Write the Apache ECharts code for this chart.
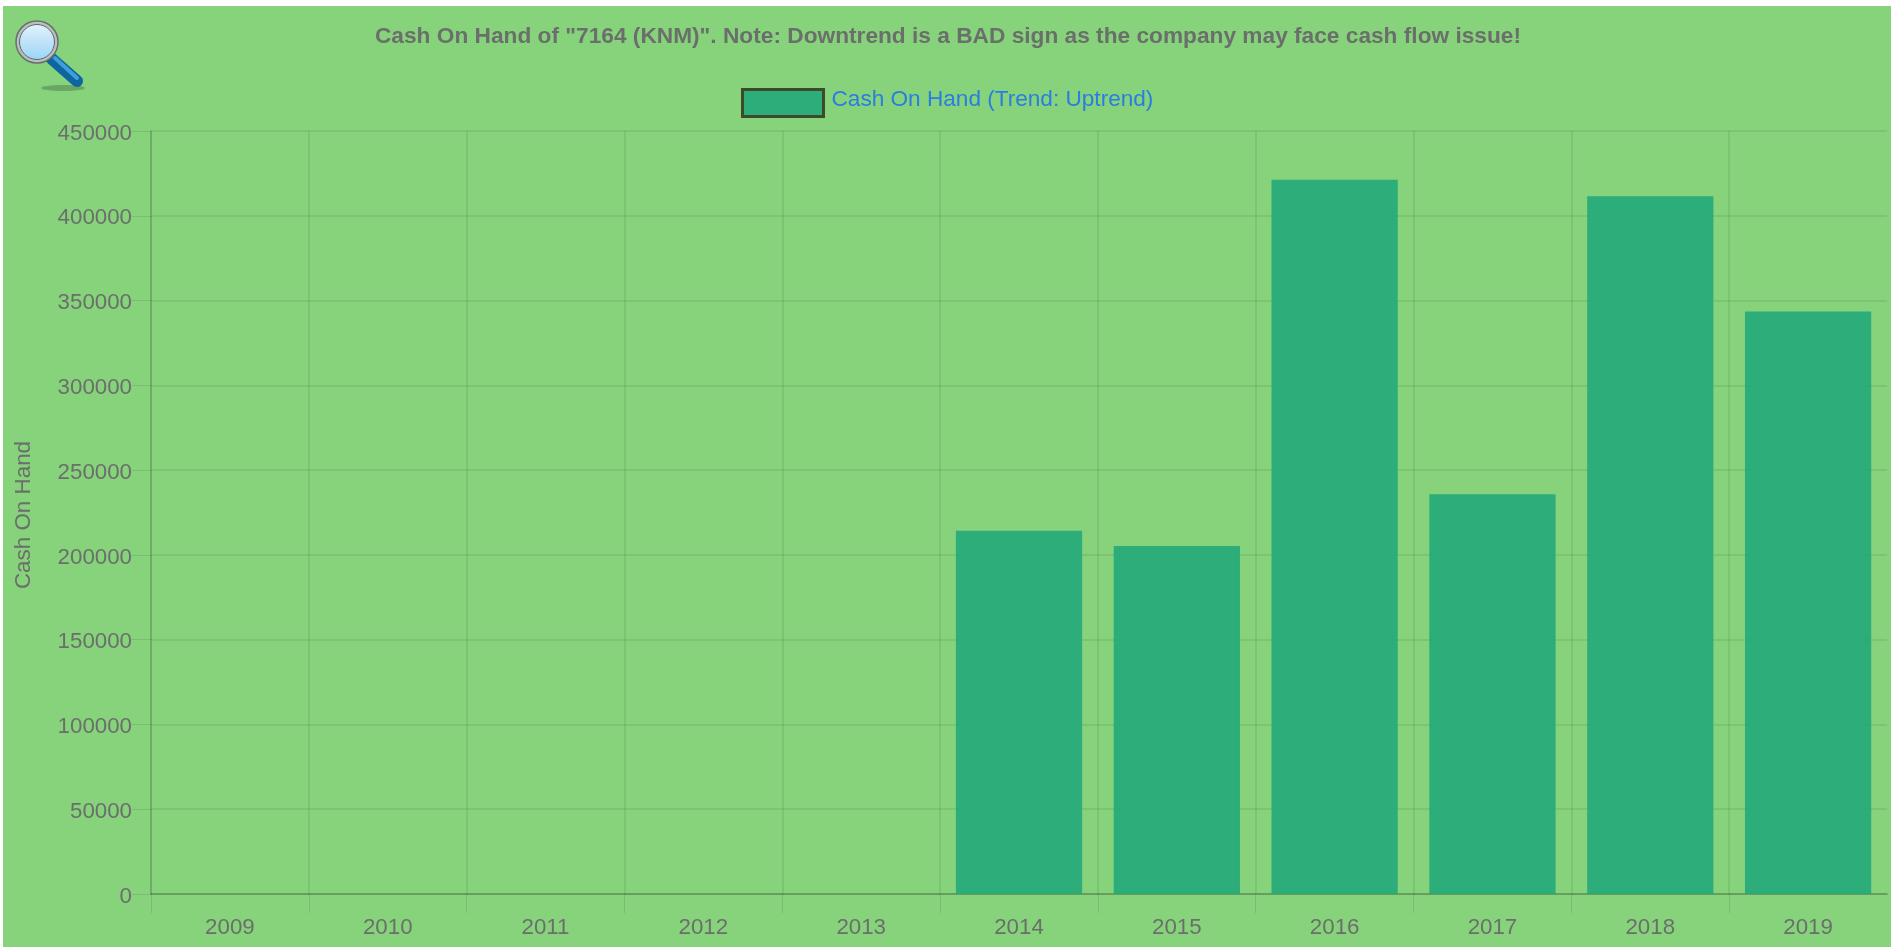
<!DOCTYPE html>
<html>
<head>
<meta charset="utf-8">
<style>
html,body{margin:0;padding:0;width:100%;height:100%;background:#fff;overflow:hidden}
#panel{position:absolute;left:3px;top:6px;width:1888px;height:941px;background:#87d37c}
#chart{position:absolute;left:0;top:0;width:1900px;height:947px}
</style>
<script src="https://cdn.jsdelivr.net/npm/echarts@6/dist/echarts.min.js"></script>
</head>
<body>
<div id="panel"></div>
<div id="chart"></div>
<script>
const titleText = 'Cash On Hand of "7164 (KNM)". Note: Downtrend is a BAD sign as the company may face cash flow issue!';
const seriesName = 'Cash On Hand (Trend: Uptrend)';
const yAxisName = 'Cash On Hand';
const categories = ['2009','2010','2011','2012','2013','2014','2015','2016','2017','2018','2019'];
const cashOnHand = [null,null,null,null,null,214300,205200,421300,235700,411500,343600];

const gridColor = 'rgba(0,0,0,0.1)';
const textColor = '#6b6f6b';
const fontFamily = '"Liberation Sans", Arial, sans-serif';
const fontSize = 22.3;

const chart = echarts.init(document.getElementById('chart'), null, {renderer:'canvas'});
chart.setOption({
  animation:false,
  backgroundColor:'transparent',
  title:{
    text:titleText,left:948,top:25.5,padding:0,textAlign:'center',
    textStyle:{color:textColor,fontSize:22.7,fontWeight:'bold',fontFamily}
  },
  legend:{
    left:741,top:88,padding:0,itemWidth:81,itemHeight:27,itemGap:10,
    formatter:n=>'{a|'+n+'}',
    textStyle:{rich:{a:{color:'#2a7de1',fontSize:22.6,fontFamily,padding:[0,0,7,3]}}},
    data:[{name:seriesName,icon:'rect',itemStyle:{color:'#2cad79',borderColor:'#3d4a2a',borderWidth:3}}]
  },
  grid:{left:151,right:13,top:131,bottom:53,containLabel:false,outerBoundsMode:'none'},
  xAxis:{
    type:'category',data:categories,boundaryGap:true,
    axisLine:{show:true,onZero:true,lineStyle:{color:'rgba(0,0,0,0.25)',width:1.5}},
    axisTick:{show:true,length:19,lineStyle:{color:gridColor}},
    axisLabel:{color:textColor,fontSize,fontFamily,margin:23},
    splitLine:{show:true,showMaxLine:false,lineStyle:{color:gridColor,width:1.5}}
  },
  yAxis:{
    type:'value',min:0,max:450000,interval:50000,
    name:yAxisName,nameLocation:'middle',nameGap:116,
    nameTextStyle:{color:textColor,fontSize:22.4,fontFamily,padding:[0,5,0,0]},
    axisLine:{show:true,lineStyle:{color:'rgba(0,0,0,0.16)',width:1.5}},
    axisTick:{show:true,length:19,lineStyle:{color:gridColor}},
    axisLabel:{color:textColor,fontSize,fontFamily,margin:19,verticalAlign:'top',lineHeight:5,formatter:v=>String(v)},
    splitLine:{show:true,lineStyle:{color:gridColor,width:1.5}}
  },
  series:[{
    type:'bar',name:seriesName,data:cashOnHand,barWidth:'80%',
    itemStyle:{color:'rgba(34,169,121,0.9)'},z:3
  }],
  graphic:[
    {type:'rect',shape:{x:1884,y:895,width:6,height:20},style:{fill:'#87d37c'},z:10,silent:true},
    {type:'ellipse',shape:{cx:63,cy:88,rx:22,ry:3},style:{fill:'rgba(70,110,70,0.45)'},silent:true},
    {type:'line',shape:{x1:52,y1:59,x2:77,y2:81},style:{stroke:'#0f659f',lineWidth:12,lineCap:'round'},silent:true},
    {type:'line',shape:{x1:55,y1:58,x2:77,y2:78},style:{stroke:'#3f9fd9',lineWidth:4,lineCap:'round'},silent:true},
    {type:'circle',shape:{cx:37,cy:42,r:21},style:{fill:'#b9c0bf',stroke:'#6a6f6e',lineWidth:1.5},silent:true},
    {type:'circle',shape:{cx:37,cy:42,r:17.5},style:{
      fill:new echarts.graphic.LinearGradient(0,0,0,1,[{offset:0,color:'#e2f4fd'},{offset:0.5,color:'#bfe2f8'},{offset:1,color:'#9ad6f6'}]),
      stroke:'#5f6766',lineWidth:1},silent:true}
  ]
});
</script>
</body>
</html>
